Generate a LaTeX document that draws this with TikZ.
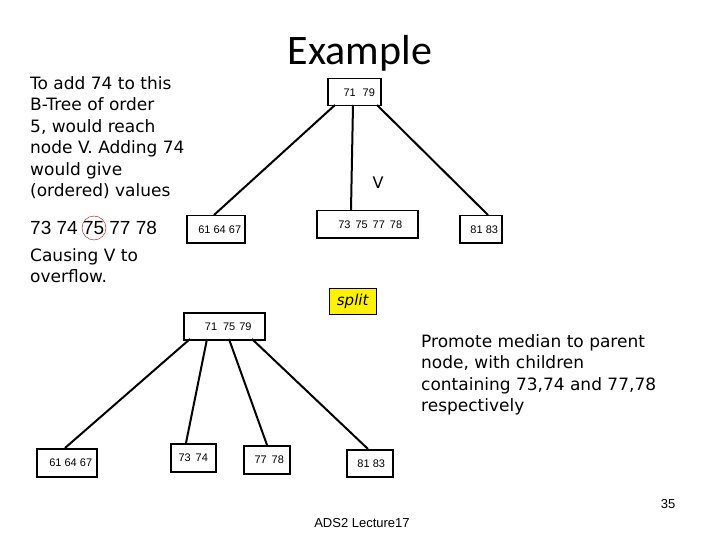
\documentclass[tikz,border=0pt]{standalone}
\usepackage{fontspec}
\setmainfont{DejaVu Sans}
\newfontfamily\arialf{Liberation Sans}
\newfontfamily\titlef{Carlito}
\usetikzlibrary{positioning}
\tikzset{
  key/.style={draw, line width=1.5pt, font=\arialf\fontsize{11}{13}\selectfont, inner sep=0pt, anchor=north west},
  link/.style={line width=2pt},
  note/.style={font=\fontsize{17}{21.5}\selectfont, align=left, anchor=north west, inner sep=0pt}
}
\begin{document}
\begin{tikzpicture}[x=1pt, y=-1pt]
    \useasboundingbox (0,0) rectangle (720,540);
    % Title
    \node[font=\titlef\fontsize{42}{46}\selectfont] (title) at (360,53) {Example};

    % Left explanation
    \node[note] (intro) at (30,76) {To add 74 to this\\B-Tree of order\\5, would reach\\node V. Adding 74\\would give\\(ordered) values};
    \node[font=\arialf\fontsize{19}{22}\selectfont, anchor=west, inner sep=0pt] (vals) at (30,228) {73 74 75 77 78};
    \draw[red!70!black, thin] (94,228) circle (12);
    \node[note] (cause) at (30,248) {Causing V to\\overflow.};

    % Tree before split
    \node[key, minimum width=53, minimum height=27] (root) at (327,78) {\hspace{10pt}71\hspace{7pt}79};
    \node[key, minimum width=58, minimum height=27] (left) at (186,215) {\hspace{8pt}61 64 67};
    \node[key, minimum width=101, minimum height=27] (mid) at (316,210) {\hspace{6pt}73\hspace{5pt}75\hspace{5pt}77\hspace{5pt}78\hspace{20pt}};
    \node[key, minimum width=42, minimum height=27] (right) at (459,215) {\hspace{7pt}81 83};
    \coordinate (r1) at (335,105);
    \coordinate (r2) at (353,105);
    \coordinate (r3) at (377,105);
    \draw[link] (r1) -- (left.north -| 214,0);
    \draw[link] (r2) -- (mid.north -| 351,0);
    \draw[link] (r3) -- (right.north -| 488,0);
    \node[font=\fontsize{16}{18}\selectfont] (vlab) at (378,183) {V};

    % Split label
    \node[draw, fill=yellow, font=\itshape\fontsize{15}{17}\selectfont, minimum width=47, minimum height=26, inner sep=0pt, anchor=north west] (split) at (329,288) {split};

    % Tree after split
    \node[key, minimum width=81, minimum height=27] (nroot) at (183,312) {\hspace{8pt}71\hspace{6pt}75\hspace{4pt}79\hspace{20pt}};
    \node[key, minimum width=60, minimum height=28] (c1) at (36,448) {\hspace{8pt}61 64 67};
    \node[key, minimum width=45, minimum height=28] (c2) at (170,443) {73\hspace{5pt}74\hspace{8pt}};
    \node[key, minimum width=46, minimum height=28] (c3) at (243,445) {\hspace{5pt}77\hspace{5pt}78};
    \node[key, minimum width=46, minimum height=27] (c4) at (346,449) {\hspace{3pt}81 83};
    \coordinate (s1) at (190,339);
    \coordinate (s2) at (207,339);
    \coordinate (s3) at (229,339);
    \coordinate (s4) at (252,339);
    \draw[link] (s1) -- (c1.north -| 65,0);
    \draw[link] (s2) -- (c2.north -| 186,0);
    \draw[link] (s3) -- (c3.north -| 267,0);
    \draw[link] (s4) -- (c4.north -| 368,0);

    \node[note] (promote) at (421,334) {Promote median to parent\\node, with children\\containing 73,74\ and 77,78\\respectively};

    % Footer
    \node[font=\arialf\fontsize{13}{15}\selectfont] (page) at (668,504) {35};
    \node[font=\arialf\fontsize{13}{15}\selectfont] (foot) at (362,523) {ADS2 Lecture17};
\end{tikzpicture}
\end{document}
